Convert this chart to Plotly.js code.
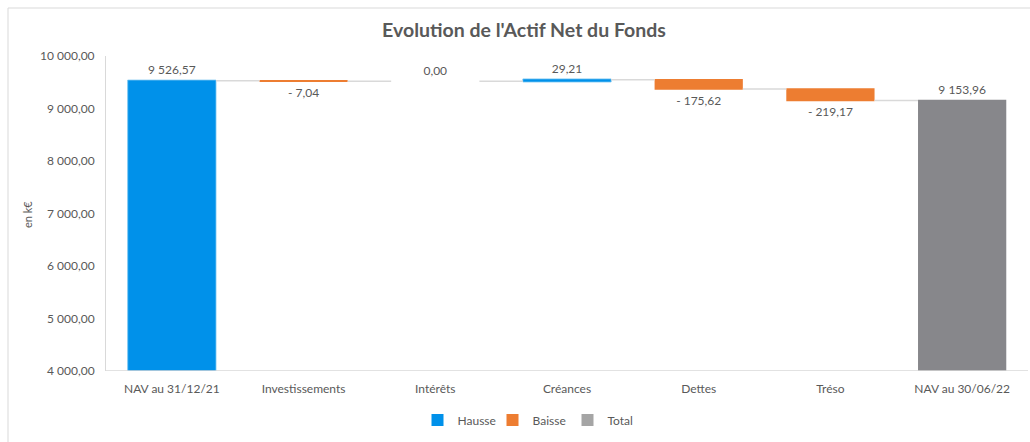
<!DOCTYPE html>
<html>
<head>
<meta charset="utf-8">
<script src="https://cdn.plot.ly/plotly-3.0.1.min.js"></script>
<style>html,body{margin:0;padding:0;background:#fff;}#chart{width:1030px;height:442px;}</style>
</head>
<body>
<div id="chart"></div>
<script>
const categories = ["NAV au 31/12/21", "Investissements", "Intérêts", "Créances", "Dettes", "Tréso", "NAV au 30/06/22"];
const values = [9526.57, -7.04, 0.00, 29.21, -175.62, -219.17, 9153.96];
const measures = ["relative", "relative", "relative", "relative", "relative", "relative", "total"];
const legendNames = ["Hausse", "Baisse", "Total"];
const yTicks = [4000, 5000, 6000, 7000, 8000, 9000, 10000];

const COL_UP = "#0091EA", COL_DOWN = "#ED7D31", COL_TOTAL = "#87878B", COL_TOTAL_LEG = "#A5A5A5";
const TXT = "#595959";
const FONT = "Lato, 'Open Sans', sans-serif";

function fr(v) {
  const s = Math.abs(v).toFixed(2).split(".");
  const intPart = s[0].replace(/\B(?=(\d{3})+(?!\d))/g, " ");
  return (v < 0 ? "- " : "") + intPart + "," + s[1];
}

const W = 1030, H = 442;
const M = {l: 106, r: 2, t: 56, b: 71};
const pw = W - M.l - M.r, ph = H - M.t - M.b;

const wf = {
  type: "waterfall",
  x: categories,
  y: values,
  measure: measures,
  text: values.map(fr),
  textposition: "outside",
  textfont: {family: FONT, size: 12, color: TXT},
  cliponaxis: false,
  increasing: {marker: {color: COL_UP, line: {color: "#6CC0F0", width: 0.8}}},
  decreasing: {marker: {color: COL_DOWN}},
  totals: {marker: {color: COL_TOTAL}},
  connector: {line: {color: "#D9D9D9", width: 1.5}},
  showlegend: false,
  hoverinfo: "x+text"
};

const legendColors = [COL_UP, COL_DOWN, COL_TOTAL_LEG];
const legendTraces = legendNames.map((n, i) => ({
  type: "bar", x: [null], y: [null], name: n,
  marker: {color: legendColors[i]}, showlegend: true, hoverinfo: "skip"
}));

const layout = {
  width: W, height: H,
  margin: M,
  paper_bgcolor: "#fff", plot_bgcolor: "#fff",
  separators: ", ",
  font: {family: FONT, size: 12, color: TXT},
  title: {text: "<b>Evolution de l'Actif Net du Fonds</b>", font: {family: FONT, size: 19.5, color: TXT},
          x: 524 / W, xanchor: "center", y: 1 - 30 / H, yanchor: "middle"},
  waterfallgap: 0.33,
  xaxis: {type: "category", showgrid: false, showline: false, zeroline: false, ticks: "",
          ticklabelstandoff: 9, tickfont: {family: FONT, size: 12, color: TXT}},
  yaxis: {range: [4000, 10000], tickvals: yTicks, tickformat: ",.2f", showgrid: false,
          showline: true, linecolor: "#D9D9D9", linewidth: 1, zeroline: false, ticks: "",
          ticklabelstandoff: 8, tickfont: {family: FONT, size: 12, color: TXT}},
  showlegend: true,
  legend: {orientation: "h", x: (530 - M.l) / pw, xanchor: "center", y: -(420 - (M.t + ph)) / ph, yanchor: "middle",
           entrywidth: 30, font: {family: FONT, size: 12, color: TXT}, traceorder: "normal"},
  shapes: [
    {type: "line", xref: "paper", yref: "y", x0: 0, x1: 1, y0: 4000, y1: 4000,
     line: {color: "#D9D9D9", width: 1.5}},
    {type: "rect", xref: "paper", yref: "paper", layer: "below",
     x0: (8 - M.l) / pw, x1: (W + 10 - M.l) / pw, y0: -(H + 10 - M.t - ph) / ph, y1: (M.t + ph - 8) / ph,
     line: {color: "#D9D9D9", width: 1}, fillcolor: "rgba(0,0,0,0)"}
  ],
  annotations: [
    {text: "en k€", xref: "paper", yref: "paper", x: (27 - M.l) / pw, y: (M.t + ph - 215) / ph,
     xanchor: "center", yanchor: "middle", textangle: -90, showarrow: false,
     font: {family: FONT, size: 11, color: TXT}}
  ]
};

Plotly.newPlot("chart", [wf].concat(legendTraces), layout, {displayModeBar: false, staticPlot: true});
</script>
</body>
</html>
